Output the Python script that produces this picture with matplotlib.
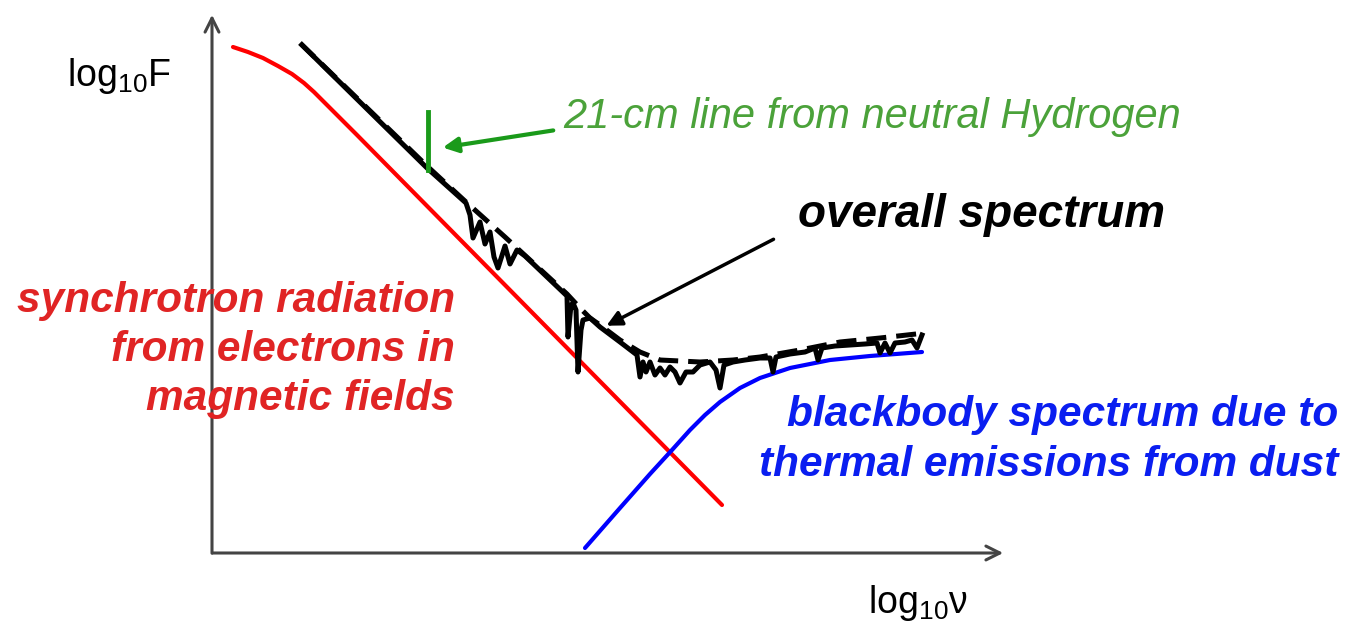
import matplotlib
matplotlib.use("Agg")
import matplotlib.pyplot as plt

plt.rcParams['font.family'] = ['Liberation Sans', 'DejaVu Sans']
plt.rcParams['mathtext.fontset'] = 'custom'
plt.rcParams['mathtext.rm'] = 'Liberation Sans'

# Curves in picture units (x = log nu, y = log F, y grows downward)
synch_x = [233, 248, 263, 278, 292, 304, 314, 323, 357, 722]
synch_y = [47, 52, 58, 66, 74, 83, 92, 101, 135, 505]

bb_x = [585, 620, 650, 672, 690, 705, 720, 740, 760, 790, 830, 870, 922]
bb_y = [548, 508, 474, 450, 430, 415, 402, 388, 378, 368, 360, 356, 352]

spec_x = [302, 427, 466, 470, 473, 480, 485, 490, 494, 498, 505, 510, 517, 525,
          567, 568, 571, 573, 576, 578, 581, 583, 590, 600, 620, 637, 640, 643,
          646, 650, 655, 660, 665, 670, 675, 680, 686, 693, 700, 710, 716, 720,
          724, 733, 745, 760, 770, 773, 776, 790, 805, 815, 818, 822, 835, 850,
          865, 877, 880, 885, 890, 895, 905, 912, 917, 922]
spec_y = [45, 168, 203, 215, 238, 222, 244, 232, 257, 268, 246, 264, 250, 256,
          296, 337, 305, 303, 310, 372, 330, 320, 318, 327, 342, 355, 377, 362,
          372, 362, 375, 368, 375, 367, 372, 383, 372, 372, 365, 362, 370, 388,
          365, 362, 360, 358, 358, 372, 357, 354, 352, 348, 360, 348, 346, 345,
          344, 343, 353, 343, 353, 343, 342, 340, 348, 335]

env_x = [300, 427, 466, 505, 567, 580, 590, 600, 620, 640, 660, 700, 733,
         760, 800, 840, 880, 925]
env_y = [43, 166, 202, 237, 294, 308, 318, 325, 340, 352, 360, 362, 360,
         357, 350, 342, 338, 333]

hline_x = [428, 428]
hline_y = [112, 170]

fig = plt.figure(figsize=(13.46, 6.3), dpi=100)
ax = fig.add_axes([0, 0, 1, 1])
ax.set_xlim(0, 1346)
ax.set_ylim(630, 0)
ax.axis('off')

# axes with arrows
ax.annotate('', xy=(212, 12), xytext=(212, 556),
            arrowprops=dict(arrowstyle='->,head_length=1.0,head_width=0.5',
                            color='#444444', lw=2.2))
ax.annotate('', xy=(1006, 553), xytext=(210, 553),
            arrowprops=dict(arrowstyle='->,head_length=1.0,head_width=0.5',
                            color='#444444', lw=2.2))

ax.plot(synch_x, synch_y, color='#ff0000', lw=3, solid_capstyle='round',
        solid_joinstyle='round')
ax.plot(bb_x, bb_y, color='#0000ff', lw=3, solid_capstyle='round',
        solid_joinstyle='round')
ax.plot(env_x, env_y, color='black', lw=3.6, ls=(0, (4, 2)))
ax.plot(spec_x, spec_y, color='black', lw=3.6, solid_joinstyle='round')
ax.plot(hline_x, hline_y, color='#1a9a1a', lw=3.5)

# arrows
ax.annotate('', xy=(440, 148), xytext=(556, 130),
            arrowprops=dict(arrowstyle='-|>,head_length=0.9,head_width=0.45',
                            color='#1a9a1a', lw=3))
ax.annotate('', xy=(604, 327), xytext=(776, 238),
            arrowprops=dict(arrowstyle='-|>,head_length=0.9,head_width=0.45',
                            color='black', lw=2.5))

# labels
ax.text(67, 76, 'log$_{\\mathregular{10}}$F', fontsize=27, va='center', ha='left')
ax.text(868, 603, 'log$_{\\mathregular{10}}$ν', fontsize=27, va='center', ha='left')

ax.text(563, 117, '21-cm line from neutral Hydrogen', fontsize=30,
        style='italic', color='#4ba23a', va='center', ha='left')
ax.text(798, 215, 'overall spectrum', fontsize=33, style='italic',
        weight='bold', color='black', va='center', ha='left')
ax.text(455, 350, 'synchrotron radiation\nfrom electrons in\nmagnetic fields',
        fontsize=30.5, style='italic', weight='bold', color='#e02424',
        va='center', ha='right', multialignment='right', linespacing=1.3)
ax.text(1338, 440, 'blackbody spectrum due to\nthermal emissions from dust',
        fontsize=30.5, style='italic', weight='bold', color='#0a1ef0',
        va='center', ha='right', multialignment='right', linespacing=1.3)

fig.savefig('out.png', dpi=100)
